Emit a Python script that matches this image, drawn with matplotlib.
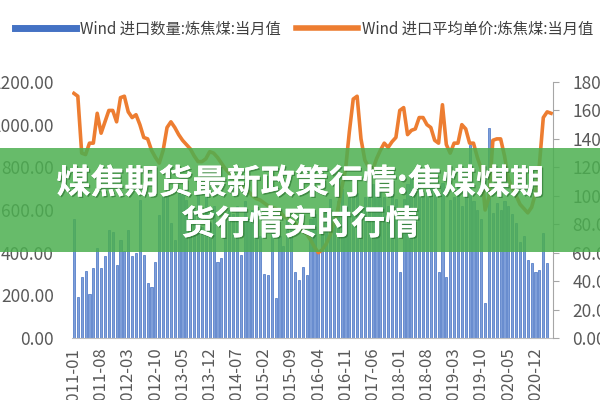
import matplotlib

matplotlib.use("Agg")
import matplotlib.pyplot as plt
import matplotlib.patheffects as pe
import pandas as pd
from matplotlib.lines import Line2D
from matplotlib.patches import Rectangle
from matplotlib.ticker import FormatStrFormatter, MultipleLocator

plt.rcParams["font.family"] = ["Noto Sans CJK SC", "DejaVu Sans"]

# monthly coking coal imports, 2011-01 .. 2021-03 (quantity), 2021-04 (price)
qty = [
    556, 194, 287, 316, 206, 327, 420, 328, 384, 506, 497, 342,
    459, 410, 506, 384, 400, 647, 389, 258, 239, 356, 576, 666,
    670, 539, 459, 680, 670, 647, 560, 600, 720, 520, 690, 540,
    620, 356, 375, 560, 600, 580, 620, 389, 640, 560, 600, 520,
    480, 300, 295, 520, 188, 480, 430, 600, 520, 310, 272, 333,
    295, 560, 580, 398, 560, 600, 650, 580, 640, 700, 620, 660,
    700, 680, 620, 660, 700, 720, 680, 700, 660, 620, 690, 650,
    310, 650, 720, 780, 690, 740, 661, 694, 720, 693, 310, 727,
    286, 647, 660, 708, 620, 690, 905, 640, 600, 560, 165, 985,
    586, 633, 600, 640, 620, 580, 540, 450, 480, 366, 351, 310,
    319, 492, 351,
]
price = [
    172, 170, 130, 129, 137, 137, 158, 144, 152, 160, 160, 152,
    169, 170, 159, 155, 157, 150, 141, 140, 132, 127, 123, 132,
    148, 152, 148, 143, 139, 136, 133, 128, 124, 124, 126, 131,
    130, 127, 123, 119, 116, 113, 110, 107, 105, 103, 100, 98,
    97, 95, 93, 92, 91, 89, 86, 84, 83, 81, 78, 75,
    73, 69, 64, 60, 62, 66, 72, 80, 90, 105, 118, 145,
    168, 170, 140, 125, 120, 118, 126, 132, 137, 134, 138, 141,
    160, 162, 143, 146, 147, 155, 155, 150, 148, 139, 137, 164,
    136, 130, 137, 137, 150, 147, 137, 137, 127, 119, 90, 99,
    139, 140, 140, 128, 112, 105, 100, 94, 91, 88, 92, 102,
    122, 155, 159, 158,
]
months = pd.date_range("2011-01", periods=len(price), freq="MS").strftime("%Y-%m")

qty_label = "Wind 进口数量:炼焦煤:当月值"
price_label = "Wind 进口平均单价:炼焦煤:当月值"
title_lines = ["煤焦期货最新政策行情:焦煤煤期", "货行情实时行情"]

blue = "#4472C4"
orange = "#ED7D31"
grey = "#595959"

fig = plt.figure(figsize=(6, 4), dpi=100)
ax = fig.add_axes([72 / 600, 62 / 400, 481 / 600, 256 / 400])
ax.bar(range(len(qty)), qty, width=0.55, color="#7f9fd9", edgecolor=blue, linewidth=0.5)
ax.set_xlim(-0.5, len(price) - 0.5)
ax.set_ylim(0, 1200)
ax.yaxis.set_major_locator(MultipleLocator(200))
ax.yaxis.set_major_formatter(FormatStrFormatter("%.2f"))
ax.set_xticks(range(0, len(price), 7))
ax.set_xticklabels(months[::7], rotation=90)
ax.tick_params(axis="y", length=0, pad=13, labelsize=12.5, labelcolor=grey)
ax.tick_params(axis="x", length=0, pad=7, labelsize=12, labelcolor=grey)
for side in ["left", "top", "right"]:
    ax.spines[side].set_visible(False)
ax.spines["bottom"].set_color("#bfbfbf")

ax2 = ax.twinx()
ax2.plot(range(len(price)), price, color=orange, linewidth=2.6)
ax2.set_ylim(0, 180)
ax2.yaxis.set_major_locator(MultipleLocator(20))
ax2.yaxis.set_major_formatter(FormatStrFormatter("%.2f"))
ax2.tick_params(axis="y", length=4, color="#a6a6a6", pad=10, labelsize=12.5, labelcolor=grey)
for side in ["left", "top", "bottom"]:
    ax2.spines[side].set_visible(False)
ax2.spines["right"].set_color("#a6a6a6")

handles = [Line2D([], [], color=blue, linewidth=5), Line2D([], [], color=orange, linewidth=4)]
leg = fig.legend(
    handles, [qty_label, price_label],
    loc="center", bbox_to_anchor=(304 / 600, 1 - 29 / 400), ncol=2, frameon=False,
    handlelength=4.0, handletextpad=0.3, columnspacing=1.0, fontsize=11,
)
for text in leg.get_texts():
    text.set_color("#404040")

# green title banner over the chart
fig.add_artist(Rectangle((0, 1 - 252 / 400), 1, 104 / 400, transform=fig.transFigure,
                         facecolor="#4CAF50", alpha=0.85, edgecolor="none", zorder=5))
shadow = [pe.withSimplePatchShadow(offset=(1, -1), shadow_rgbFace="#1b5e20", alpha=0.5), pe.Normal()]
for line, y in zip(title_lines, [183, 224]):
    fig.text(0.5, 1 - y / 400, line, ha="center", va="center", fontsize=24.5,
             fontweight="heavy", color="white", zorder=6, path_effects=shadow)

fig.savefig("out.png", dpi=100)
